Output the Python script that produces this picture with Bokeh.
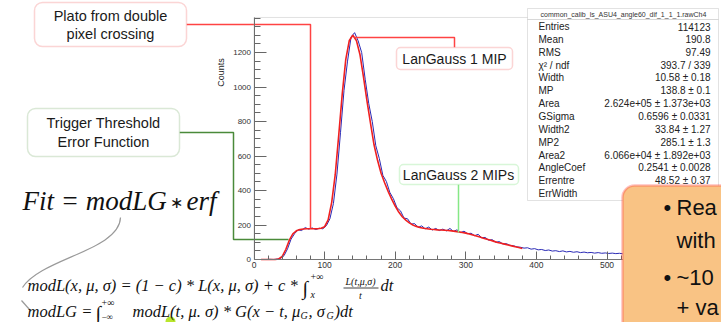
import math
from bokeh.plotting import figure
from bokeh.models import Label, BoxAnnotation, Range1d, FixedTicker
from bokeh.embed import file_html
from bokeh.resources import INLINE

# ---------------- data ----------------
hist_bin_low = list(range(10, 535, 5))
hist_counts = [0, 0, 1, 0, 2, 6, 22, 62, 118, 150,
               172, 168, 185, 176, 183, 174, 181, 178, 196, 236,
               325, 495, 735, 980, 1150, 1290, 1315, 1268, 1200, 1045,
               905, 800, 660, 585, 488, 452, 388, 352, 300, 282,
               240, 236, 205, 208, 186, 195, 178, 188, 171, 180,
               168, 176, 166, 180, 163, 172, 156, 164, 150, 152,
               138, 146, 126, 128, 112, 115, 100, 104, 90, 92,
               82, 80, 73, 71, 66, 68, 60, 63, 56, 58,
               52, 55, 49, 51, 46, 50, 44, 47, 42, 45,
               40, 43, 39, 41, 37, 40, 36, 38, 35, 37,
               34, 36, 33, 35, 32]

fit_x = [10, 15, 20, 25, 30, 35, 40, 45, 50, 55,
         60, 65, 70, 75, 80, 85, 90, 95, 100, 105,
         110, 115, 120, 125, 130, 135, 140, 145, 150, 155,
         160, 165, 170, 175, 180, 185, 190, 195, 200, 205,
         210, 215, 220, 225, 230, 235, 240, 245, 250, 255,
         260, 265, 270, 275, 280, 285, 290, 295, 300, 305,
         310, 315, 320, 325, 330, 335, 340, 345, 350, 355,
         360, 365, 370, 375, 380]
fit_y = [0, 0, 0, 0, 0, 3, 18, 58, 112, 148,
         166, 174, 177, 178, 178, 178, 178, 181, 190, 230,
         330, 490, 720, 960, 1160, 1270, 1300, 1270, 1190, 1060,
         920, 790, 665, 575, 500, 445, 395, 350, 310, 275,
         248, 228, 212, 200, 192, 186, 181, 178, 175, 174,
         172, 171, 170, 168, 166, 163, 160, 157, 153, 148,
         142, 136, 130, 123, 117, 111, 105, 99, 94, 89,
         84, 79, 74, 69, 64]

x_ticks = [0, 100, 200, 300, 400, 500]
y_ticks = [0, 200, 400, 600, 800, 1000, 1200]

stats_title = "common_calib_ls_ASU4_angle60_dif_1_1_1.rawCh4"
stat_names = ["Entries", "Mean", "RMS", "\u03c7\u00b2 / ndf", "Width", "MP", "Area", "GSigma",
              "Width2", "MP2", "Area2", "AngleCoef", "Errentre", "ErrWidth"]
stat_values = ["114123", "190.8", "97.49", "393.7 / 339", "10.58 \u00b1 0.18", "138.8 \u00b1 0.1",
               "2.624e+05 \u00b1 1.373e+03", "0.6596 \u00b1 0.0331", "33.84 \u00b1 1.27",
               "285.1 \u00b1 1.3", "6.066e+04 \u00b1 1.892e+03", "0.2541 \u00b1 0.0028",
               "48.52 \u00b1 0.37", ""]

# ---------------- layout constants (pixels) ----------------
W, H = 721, 322
FX0, FY0 = 253.5, 259.0      # pixel position of data origin
PX_PER_X = 0.706             # px per x unit
PX_PER_Y = 0.1725            # px per count
X_END, Y_END = 548, 1403

p = figure(width=W, height=H, output_backend="svg", toolbar_location=None,
           title=None,
           x_range=Range1d(-FX0 / PX_PER_X, (W - FX0) / PX_PER_X),
           y_range=Range1d(-(H - FY0) / PX_PER_Y, FY0 / PX_PER_Y),
           min_border=0, min_border_left=0, min_border_right=0,
           min_border_top=0, min_border_bottom=0)
p.extra_x_ranges = {"px": Range1d(0, W)}
p.extra_y_ranges = {"px": Range1d(H, 0)}
p.outline_line_color = None
p.background_fill_color = "white"
p.border_fill_color = "white"
p.grid.visible = False

# axes drawn at the data origin
for ax in p.xaxis:
    ax.fixed_location = 0
    ax.bounds = (0, X_END)
    ax.ticker = FixedTicker(ticks=x_ticks, minor_ticks=list(range(0, X_END, 20)))
    ax.major_tick_in = 8
    ax.major_tick_out = 0
    ax.minor_tick_in = 4
    ax.minor_tick_out = 0
    ax.axis_line_color = "#666666"
    ax.major_tick_line_color = "#666666"
    ax.minor_tick_line_color = "#666666"
    ax.major_label_text_font = "Liberation Sans"
    ax.major_label_text_font_size = "8.5px"
    ax.major_label_text_color = "#333333"
    ax.major_label_standoff = 2
for ax in p.yaxis:
    ax.fixed_location = 0
    ax.bounds = (0, Y_END)
    ax.ticker = FixedTicker(ticks=y_ticks, minor_ticks=list(range(0, Y_END, 50)))
    ax.major_tick_in = 12
    ax.major_tick_out = 0
    ax.minor_tick_in = 6
    ax.minor_tick_out = 0
    ax.axis_line_color = "#666666"
    ax.major_tick_line_color = "#666666"
    ax.minor_tick_line_color = "#666666"
    ax.major_label_text_font = "Liberation Sans"
    ax.major_label_text_font_size = "8px"
    ax.major_label_text_color = "#333333"
    ax.major_label_standoff = 3

# ---------------- histogram & fit ----------------
hist_centers = [b + 2.5 for b in hist_bin_low]
p.line(x=hist_centers, y=hist_counts, line_color="#2a2ab5", line_width=1)
p.line(x=fit_x, y=fit_y, line_color="#f02020", line_width=1.6)

# helpers for decorations in pixel space
PX = dict(x_range_name="px", y_range_name="px")


def pline(xs, ys, color, width=1.5):
    p.line(x=xs, y=ys, line_color=color, line_width=width, **PX)


def pbox(l, t, r, b, line, fill="white", width=1.5, radius=0, fill_alpha=1.0):
    p.add_layout(BoxAnnotation(left=l, right=r, top=t, bottom=b, fill_color=fill,
                               fill_alpha=fill_alpha, line_color=line, line_width=width,
                               border_radius=radius, **PX))


def ptext(x, y, text, size, font="Liberation Sans", align="center", baseline="middle",
          color="#1a1a1a", style="normal", angle=0.0):
    p.add_layout(Label(x=x, y=y, text=text, text_font=font, text_font_size=f"{size}px",
                       text_align=align, text_baseline=baseline, text_color=color,
                       text_font_style=style, angle=angle, **PX))


# frame of the histogram (top / right border)
p.add_layout(BoxAnnotation(left=0, right=X_END, bottom=0, top=Y_END, fill_alpha=0,
                           line_color="#9a9a9a", line_width=1))

# connectors
RED = "#ff4343"
pline([186, 310, 310], [24, 24, 228], RED)
pline([354, 454, 454], [37, 37, 47], RED)
pline([179, 233, 233, 288], [132, 132, 239, 239], "#4a8a3a")
pline([458, 458], [184, 232], "#86e886")
p.bezier(x0=[120], y0=[217], x1=[22], y1=[287], cx0=[119], cy0=[250], cx1=[40], cy1=[258],
         line_color="#9a9a9a", line_width=1.2, **PX)
pline([21, 29], [300, 309], "#9a9a9a", 1.2)

# annotation boxes
pbox(34, 2, 186, 46, "#f27373", radius=8)
ptext(110, 15, "Plato from double", 14.5)
ptext(110, 33, "pixel crossing", 14.5)

pbox(27, 108, 179, 156, "#86b276", radius=8)
ptext(103, 122, "Trigger Threshold", 14.5)
ptext(103, 141, "Error Function", 14.5)

pbox(396, 47, 512, 69, "#f27373", radius=4)
ptext(454, 58, "LanGauss 1 MIP", 14)

pbox(399, 164, 518, 184, "#7fe07f", radius=4)
ptext(458, 174, "LanGauss 2 MIPs", 14)

# y-axis title
ptext(220, 72, "Counts", 9, angle=math.pi / 2)

# stats box
pbox(527, 8, 718, 19, "#a0a0a0", width=1)
pbox(527, 19, 718, 200, "#a0a0a0", width=1)
ptext(623, 13.5, stats_title, 7, color="#333333")
for i, (nm, val) in enumerate(zip(stat_names, stat_values)):
    yy = 26 + 12.85 * i
    ptext(538, yy, nm, 10, align="left", color="#222222")
    if val:
        ptext(710, yy, val, 10, align="right", color="#222222")

# orange text box (partly outside the picture)
pbox(622, 185, 760, 360, "#ff3030", fill="#f9c384", width=2.5, radius=12)
ptext(663, 207, "\u2022", 22, align="left", color="#111111")
ptext(676, 207, "Rea", 22, align="left", color="#111111")
ptext(676, 240, "with", 22, align="left", color="#111111")
ptext(663, 277, "\u2022", 22, align="left", color="#111111")
ptext(676, 277, "~10", 22, align="left", color="#111111")
ptext(676, 307, "+ va", 22, align="left", color="#111111")

# formulas
SER = "Liberation Serif"
INK = "#111111"
ptext(22, 200, "Fit = modLG", 27, font=SER, align="left", style="italic", color=INK)
ptext(176, 202, "\u2217", 16, font=SER, color=INK)
ptext(186, 200, "erf", 27, font=SER, align="left", style="italic", color=INK)

ptext(27, 285, "modL(x, \u03bc, \u03c3) = (1 \u2212 c) * L(x, \u03bc, \u03c3) + c *", 16.5,
      font=SER, align="left", style="italic", color=INK)
ptext(302, 287, "\u222b", 20, font=SER, align="left", color=INK)
ptext(310, 276, "+\u221e", 10, font=SER, align="left", color=INK)
ptext(310, 294, "x", 10, font=SER, align="left", style="italic", color=INK)
ptext(360, 281, "L(t,\u03bc,\u03c3)", 10, font=SER, style="italic", color=INK)
pline([343, 378], [287.5, 287.5], INK, 0.8)
ptext(360, 295, "t", 10, font=SER, style="italic", color=INK)
ptext(380, 285, "dt", 16.5, font=SER, align="left", style="italic", color=INK)

ptext(27, 311, "modLG =", 16.5, font=SER, align="left", style="italic", color=INK)
ptext(95, 312, "\u222b", 20, font=SER, align="left", color=INK)
ptext(101, 302, "+\u221e", 10, font=SER, align="left", color=INK)
ptext(101, 316, "\u2212\u221e", 9, font=SER, align="left", color=INK)
ptext(132, 311, "modL(t, \u03bc. \u03c3) * G(x \u2212 t, \u03bc", 16.5, font=SER, align="left",
      style="italic", color=INK)
ptext(300, 315, "G", 10, font=SER, align="left", style="italic", color=INK)
ptext(308, 311, ", \u03c3", 16.5, font=SER, align="left", style="italic", color=INK)
ptext(326, 315, "G", 10, font=SER, align="left", style="italic", color=INK)
ptext(334, 311, ")dt", 16.5, font=SER, align="left", style="italic", color=INK)

# small highlight dot near the bottom
p.scatter(x=[170], y=[321], size=10, fill_color="#b9e62c", line_color=None, **PX)

open("out.html", "w").write(file_html(p, INLINE))
